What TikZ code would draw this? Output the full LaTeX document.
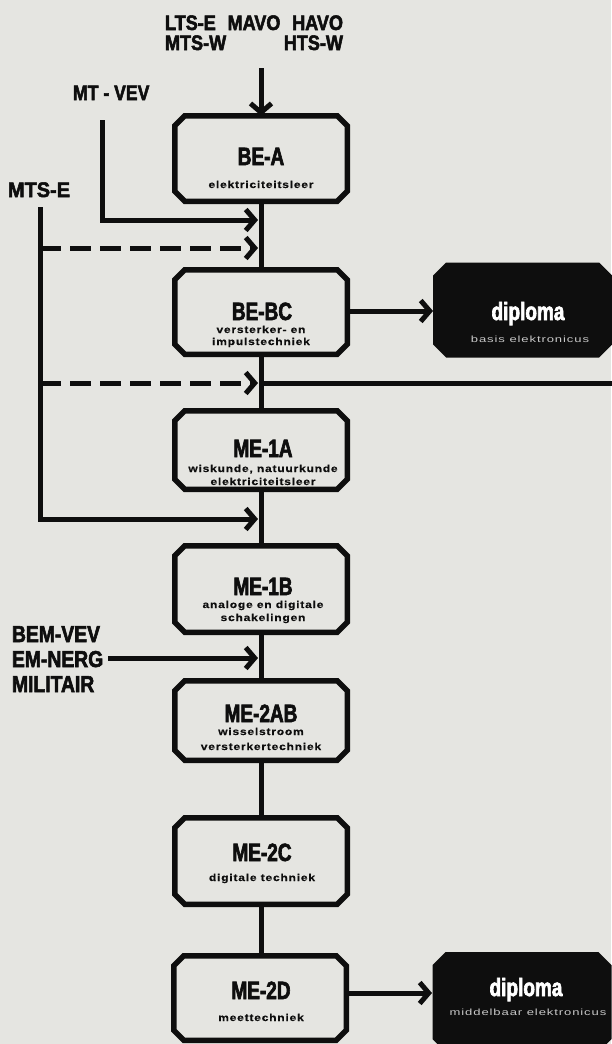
\documentclass[tikz,border=0pt]{standalone}
\usepackage{fontspec}
\setmainfont{Liberation Sans}
\newfontfamily\condfont{Liberation Sans Bold}[FakeStretch=0.76, FakeBold=2.5]
\newfontfamily\labfont{Liberation Sans Bold}[FakeStretch=0.84, FakeBold=2.5]
\newfontfamily\toplabfont{Liberation Sans Bold}[FakeStretch=0.86, FakeBold=2.5]
\newfontfamily\mtsefont{Liberation Sans Bold}[FakeStretch=0.95, FakeBold=2.5]
\newfontfamily\widefont{Liberation Sans Bold}[FakeStretch=1.2, LetterSpace=8, FakeBold=0.4]
\newfontfamily\widefontR{Liberation Sans}[FakeStretch=1.45, LetterSpace=10]
\usetikzlibrary{arrows.meta}
\definecolor{bg}{RGB}{229,229,225}
\definecolor{ink}{RGB}{14,14,14}
\definecolor{pale}{RGB}{200,200,200}
% chamfered outline around a named rectangular node: #1 name, #2 chamfer, #3 path options
\newcommand{\chamferbox}[3]{%
  \path[#3] ([xshift=#2]#1.north west) -- ([xshift=-#2]#1.north east)
    -- ([yshift=-#2]#1.north east) -- ([yshift=#2]#1.south east)
    -- ([xshift=-#2]#1.south east) -- ([xshift=#2]#1.south west)
    -- ([yshift=#2]#1.south west) -- ([yshift=-#2]#1.north west) -- cycle;}
\begin{document}
\begin{tikzpicture}[x=1pt, y=-1pt,
  every node/.style={inner sep=0pt, outer sep=0pt},
  box/.style={rectangle, minimum width=172.5pt},
  boxline/.style={draw=ink, line width=5.5pt, line join=miter},
  dip/.style={rectangle, minimum width=179pt, minimum height=95pt},
  dipfill/.style={fill=ink},
  ttl/.style={anchor=base, text=ink, font=\condfont\fontsize{25}{25}\selectfont},
  sub/.style={anchor=base, text=ink, font=\widefont\fontsize{10}{10}\selectfont},
  dipttl/.style={anchor=base, text=white, font=\condfont\fontsize{25}{25}\selectfont},
  dipsub/.style={anchor=base, text=pale, font=\widefontR\fontsize{9}{9}\selectfont},
  lab/.style={anchor=base west, text=ink, font=\labfont\fontsize{21}{21}\selectfont},
  toplab/.style={anchor=base west, text=ink, font=\toplabfont\fontsize{21}{21}\selectfont},
  mtselab/.style={anchor=base west, text=ink, font=\mtsefont\fontsize{21}{21}\selectfont},
  biglab/.style={anchor=base west, text=ink, font=\labfont\fontsize{23}{23}\selectfont},
  conn/.style={draw=ink, line width=5pt},
  arr/.style={conn, -{Straight Barb[length=9pt, width=21pt, line width=5pt]}},
  dsh/.style={arr, dash pattern=on 21pt off 9pt},
]
\fill[bg] (0,0) rectangle (611,1044);
\useasboundingbox (0,0) rectangle (611,1044);

% boxes
\node[box, minimum height=85.5pt] (bea)  at (261,158.5) {};
\node[box, minimum height=84.5pt] (bebc) at (261,312) {};
\node[box, minimum height=78.5pt] (me1a) at (261,450) {};
\node[box, minimum height=86.5pt] (me1b) at (261,589) {};
\node[box, minimum height=79.5pt] (me2ab) at (261,720.5) {};
\node[box, minimum height=86.5pt] (me2c) at (261,861) {};
\node[box, minimum height=84.5pt] (me2d) at (260,998) {};
\foreach \b in {bea,bebc,me1a,me1b,me2ab,me2c,me2d}{\chamferbox{\b}{10pt}{boxline}}

\node[dip] (dip1) at (522.5,310) {};
\node[dip, minimum height=100pt] (dip2) at (522,1002) {};
\chamferbox{dip1}{13pt}{dipfill}
\chamferbox{dip2}{13pt}{dipfill}

% box texts
\node[ttl] (beaT) at (261,165) {BE-A};
\node[sub] (beaS) at (261,188) {elektriciteitsleer};
\node[ttl] (bebcT) at (262,320) {BE-BC};
\node[sub] (bebcS1) at (261,333) {versterker- en};
\node[sub] (bebcS2) at (261,345) {impulstechniek};
\node[ttl] (me1aT) at (263,457) {ME-1A};
\node[sub] (me1aS1) at (263,472) {wiskunde, natuurkunde};
\node[sub] (me1aS2) at (263,485) {elektriciteitsleer};
\node[ttl] (me1bT) at (263,595) {ME-1B};
\node[sub] (me1bS1) at (263,608) {analoge en digitale};
\node[sub] (me1bS2) at (263,621) {schakelingen};
\node[ttl] (me2abT) at (261,722) {ME-2AB};
\node[sub] (me2abS1) at (261,735) {wisselstroom};
\node[sub] (me2abS2) at (261,750) {versterkertechniek};
\node[ttl] (me2cT) at (262,861) {ME-2C};
\node[sub] (me2cS) at (262,881) {digitale techniek};
\node[ttl] (me2dT) at (261,999) {ME-2D};
\node[sub] (me2dS) at (261,1021) {meettechniek};

\node[dipttl] (dip1T) at (528,320) {diploma};
\node[dipsub] (dip1S) at (530,342) {basis elektronicus};
\node[dipttl] (dip2T) at (526,996) {diploma};
\node[dipsub] (dip2S) at (528,1015) {middelbaar elektronicus};

% labels
\node[toplab] (t1) at (165,30) {\makebox[178pt][s]{LTS-E MAVO HAVO}};
\node[toplab] (t2) at (165,50) {\makebox[178pt][s]{MTS-W HTS-W}};
\node[lab] (mtvev) at (73,100) {MT - VEV};
\node[mtselab] (mtse) at (8,197) {MTS-E};
\node[biglab] (bem1) at (12,642) {BEM-VEV};
\node[biglab] (bem2) at (12,667) {EM-NERG};
\node[biglab] (bem3) at (12,692) {MILITAIR};

% coordinates
\coordinate (topIn) at (261,68);
\coordinate (mtvevTop) at (102,120);
\coordinate (mtvevBend) at (102,220);
\coordinate (j1) at (258,220);
\coordinate (mtseTop) at (40,207);
\coordinate (mtseBend) at (40,519);
\coordinate (j5) at (258,519);
\coordinate (d1a) at (40,248);
\coordinate (j2) at (258,248);
\coordinate (d2a) at (40,383);
\coordinate (j4) at (258,383);
\coordinate (j4c) at (261,383);
\coordinate (rightEnd) at (612,383);
\coordinate (bemOut) at (108,658);
\coordinate (j6) at (258,658);
\coordinate (d1in) at (433,311);
\coordinate (d2in) at (432,993);

% connectors
\draw[arr] (topIn) -- (bea.north);
\draw[conn] (bea.south) -- (bebc.north);
\draw[conn] (bebc.south) -- (me1a.north);
\draw[conn] (me1a.south) -- (me1b.north);
\draw[conn] (me1b.south) -- (me2ab.north);
\draw[conn] (me2ab.south) -- (me2c.north);
\draw[conn] (me2c.south) -- (me2c.south |- me2d.north);
\draw[conn] (j4c) -- (rightEnd);
\draw[arr] (mtvevTop) -- (mtvevBend) -- (j1);
\draw[arr] (mtseTop) -- (mtseBend) -- (j5);
\draw[dsh] (d1a) -- (j2);
\draw[dsh] (d2a) -- (j4);
\draw[arr] (bemOut) -- (j6);
\draw[arr] (bebc.east |- d1in) -- (d1in);
\draw[arr] (me2d.east |- d2in) -- (d2in);
\end{tikzpicture}
\end{document}
